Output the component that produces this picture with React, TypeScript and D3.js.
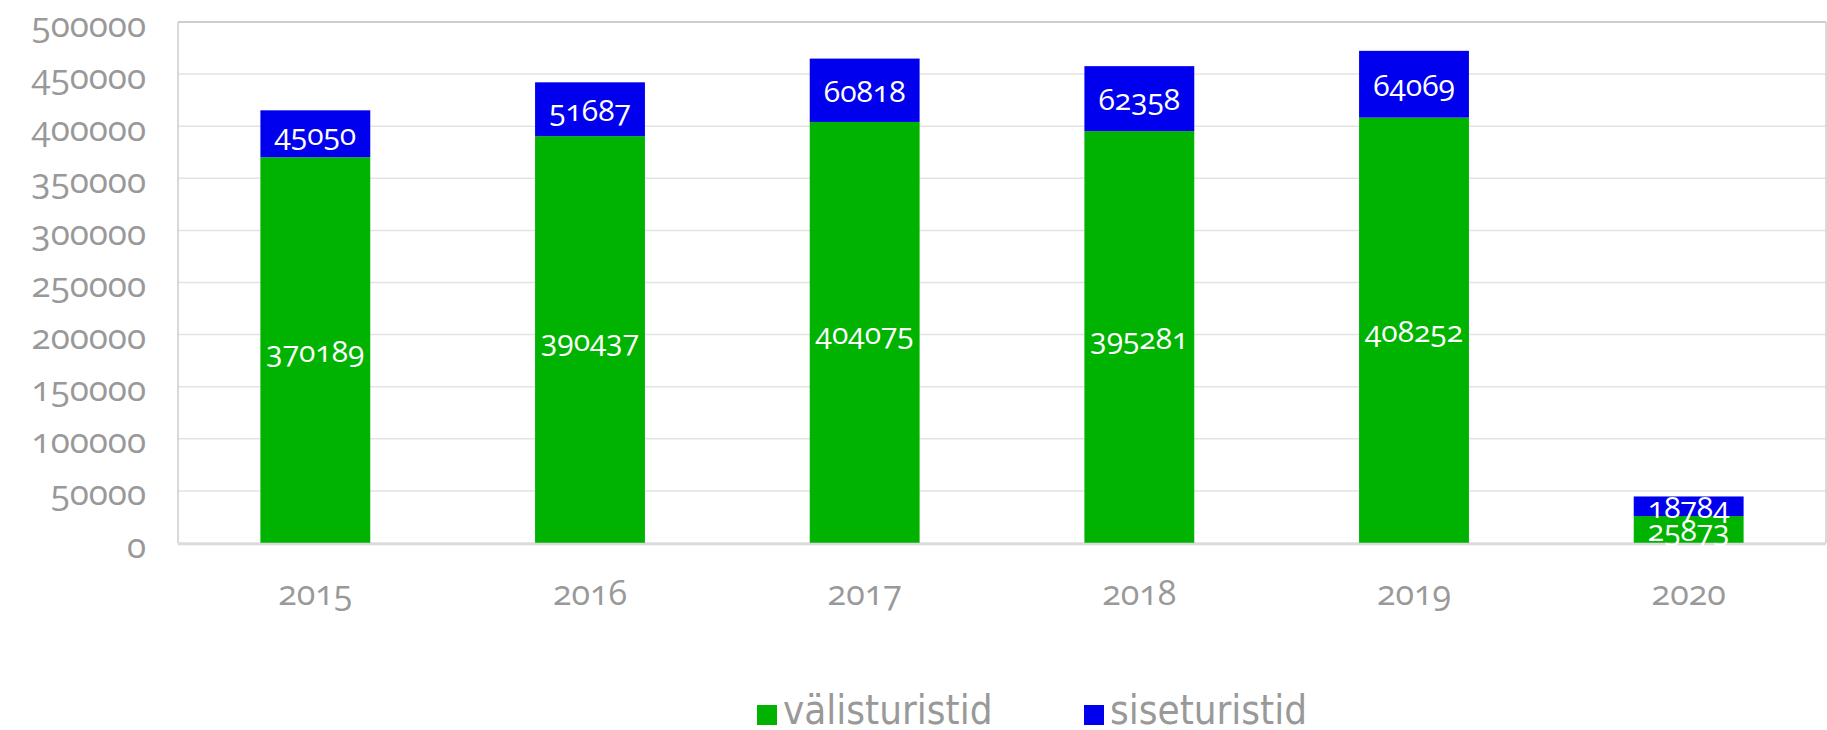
import React from "react";
import * as d3 from "d3";

const years = ["2015", "2016", "2017", "2018", "2019", "2020"];
const valisturistid = [370189, 390437, 404075, 395281, 408252, 25873];
const siseturistid = [45050, 51687, 60818, 62358, 64069, 18784];
const yTicks = [0, 50000, 100000, 150000, 200000, 250000, 300000, 350000, 400000, 450000, 500000];
const seriesNames = ["välisturistid", "siseturistid"];
const colors = ["#00b300", "#0000ee"];

const W = 1827;
const H = 730;
const left = 178;
const right = 1826;
const top = 22;
const bottom = 543;

const css = `
.num { font-family: 'Open Sans', sans-serif; font-feature-settings: "onum" 1; font-variant-numeric: oldstyle-nums; }
.gray { fill: #999999; }
.white { fill: #ffffff; }
`;

export default function App() {
  const x = d3.scaleBand<string>().domain(years).range([left, right]).paddingInner(0.6).paddingOuter(0.3);
  const y = d3.scaleLinear().domain([0, 500000]).range([bottom, top]);

  const rows = years.map((yr, i) => ({ year: yr, v: valisturistid[i], s: siseturistid[i] }));
  const stack = d3.stack<any>().keys(["v", "s"])(rows as any);

  return (
    <svg width={W} height={H} style={{ position: "absolute", left: 0, top: 0, display: "block" }}>
      <style>{css}</style>
      <rect x={0} y={0} width={W} height={H} fill="#ffffff" />
      {yTicks.map((t) => (
        <line key={"g" + t} x1={left} x2={right} y1={y(t)} y2={y(t)} stroke="#e3e3e3" strokeWidth={1.5} />
      ))}
      <line x1={left} x2={right} y1={top} y2={top} stroke="#c4c4c4" strokeWidth={1.5} />
      <line x1={left} x2={left} y1={top} y2={bottom} stroke="#cccccc" strokeWidth={1.5} />
      <line x1={right} x2={right} y1={top} y2={bottom} stroke="#cccccc" strokeWidth={1.5} />
      {stack.map((layer, li) =>
        layer.map((d, i) => (
          <rect
            key={li + "-" + i}
            x={x(years[i])!}
            width={x.bandwidth()}
            y={y(d[1])}
            height={y(d[0]) - y(d[1])}
            fill={colors[li]}
          />
        ))
      )}
      <line x1={left} x2={right} y1={bottom + 1} y2={bottom + 1} stroke="#dadada" strokeWidth={2.5} />
      {stack.map((layer, li) =>
        layer.map((d, i) => (
          <text
            key={"l" + li + "-" + i}
            className="num white"
            x={x(years[i])! + x.bandwidth() / 2}
            y={(y(d[0]) + y(d[1])) / 2}
            textAnchor="middle"
            dominantBaseline="central"
            fontSize={30}
          >
            {li === 0 ? valisturistid[i] : siseturistid[i]}
          </text>
        ))
      )}
      {yTicks.map((t) => (
        <text
          key={"t" + t}
          className="num gray"
          x={146}
          y={y(t) + 1}
          textAnchor="end"
          dominantBaseline="central"
          fontSize={35}
        >
          {t}
        </text>
      ))}
      {years.map((yr) => (
        <text
          key={"x" + yr}
          className="num gray"
          x={x(yr)! + x.bandwidth() / 2}
          y={592}
          textAnchor="middle"
          dominantBaseline="central"
          fontSize={34}
        >
          {yr}
        </text>
      ))}
      {seriesNames.map((name, i) => {
        const lx = [757, 1084][i];
        return (
          <g key={name}>
            <rect x={lx} y={705} width={20} height={20} fill={colors[i]} />
            <text
              x={lx + 26}
              y={724}
              fill="#999999"
              fontFamily="'DejaVu Sans Condensed', sans-serif"
              fontSize={40}
            >
              {name}
            </text>
          </g>
        );
      })}
    </svg>
  );
}
